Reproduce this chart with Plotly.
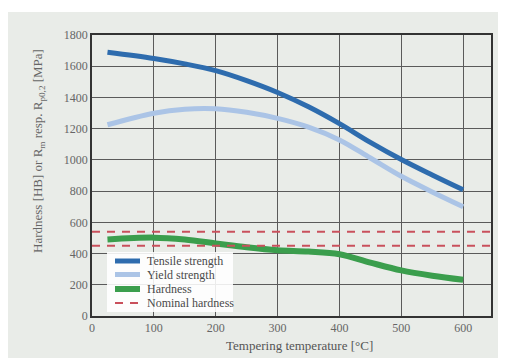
import plotly.graph_objects as go

# ---- data ----
temperature = [25, 100, 150, 200, 250, 300, 350, 400, 450, 500, 550, 600]
tensile_strength = [1690, 1650, 1615, 1572, 1508, 1432, 1340, 1232, 1112, 1002, 903, 808]
yield_strength = [1225, 1299, 1325, 1328, 1305, 1266, 1210, 1128, 1012, 895, 795, 700]
hardness_x = [25, 100, 150, 200, 250, 300, 350, 400, 450, 500, 550, 600]
hardness = [490, 502, 490, 465, 440, 421, 413, 396, 342, 292, 258, 232]
nominal_x = [0, 645]
nominal_upper = 540
nominal_lower = 450
x_ticks = [0, 100, 200, 300, 400, 500, 600]
y_ticks = [0, 200, 400, 600, 800, 1000, 1200, 1400, 1600, 1800]
legend_names = ["Tensile strength", "Yield strength", "Hardness", "Nominal hardness"]

SERIF = "Liberation Serif"
BG = "#e9ece8"
C_TS, C_YS, C_HB, C_NOM = "#2e6cae", "#abc4e6", "#3b9e4d", "#c9505c"
styles = [dict(color=C_TS, width=5), dict(color=C_YS, width=5),
          dict(color=C_HB, width=6), dict(color=C_NOM, width=2, dash="8px,7px")]

fig = go.Figure()
fig.add_trace(go.Scatter(x=temperature, y=tensile_strength, mode="lines",
                         name=legend_names[0], line=dict(**styles[0], shape="spline")))
fig.add_trace(go.Scatter(x=temperature, y=yield_strength, mode="lines",
                         name=legend_names[1], line=dict(**styles[1], shape="spline")))
fig.add_trace(go.Scatter(x=hardness_x, y=hardness, mode="lines",
                         name=legend_names[2], line=dict(**styles[2], shape="spline")))
fig.add_trace(go.Scatter(
    x=nominal_x + [None] + nominal_x,
    y=[nominal_upper, nominal_upper, None, nominal_lower, nominal_lower],
    mode="lines", name=legend_names[3], connectgaps=False, line=styles[3]))

# page body has an 8px margin: figure is placed at (8, 8)
W, H = 498, 350
L, R, T, B = 84, 15, 27, 42
PW, PH = W - L - R, H - T - B


def px(fx):
    return (fx - L) / PW


def py(fy):
    return (H - B - fy) / PH


shapes = [
    dict(type="rect", xref="paper", yref="paper",
         x0=px(0), x1=px(W), y0=py(4), y1=py(0),
         fillcolor="white", line=dict(width=0)),
    # legend box
    dict(type="rect", xref="paper", yref="paper", layer="above",
         x0=px(99), x1=px(225), y0=py(304), y1=py(244),
         fillcolor="rgba(255,255,255,0.88)", line=dict(width=0)),
]
annotations = [
    dict(text="Hardness [HB] or R<sub>m</sub> resp. R<sub>p0,2</sub> [MPa]",
         xref="paper", yref="paper", x=px(30), y=py(143),
         textangle=-90, showarrow=False, xanchor="center", yanchor="middle",
         font=dict(family=SERIF, size=13, color="#666666")),
    dict(text="Tempering temperature [°C]",
         xref="paper", yref="paper", x=px(291), y=py(337),
         showarrow=False, xanchor="center", yanchor="middle",
         font=dict(family=SERIF, size=13, color="#555555")),
]
row_y = [253, 266.5, 281, 295]
for name, st, ry in zip(legend_names, styles, row_y):
    shapes.append(dict(type="line", xref="paper", yref="paper", layer="above",
                       x0=px(107), x1=px(132), y0=py(ry), y1=py(ry),
                       line=dict(color=st["color"], width=st["width"],
                                 dash=st.get("dash", "solid"))))
    annotations.append(dict(text=name, xref="paper", yref="paper",
                            x=px(137), y=py(ry), xanchor="left", yanchor="middle",
                            showarrow=False,
                            font=dict(family=SERIF, size=12, color="#4a4a4a")))

fig.update_layout(
    width=W, height=H,
    margin=dict(l=L, r=R, t=T, b=B),
    paper_bgcolor=BG,
    plot_bgcolor=BG,
    font=dict(family=SERIF, size=12, color="#666666"),
    showlegend=False,
    shapes=shapes,
    annotations=annotations,
)

fig.update_xaxes(range=[0, 645], tickvals=x_ticks, showgrid=True,
                 gridcolor="#5a5a5a", gridwidth=1, zeroline=False,
                 showline=True, linecolor="#333333", linewidth=1.5, mirror=True,
                 ticks="", tickfont=dict(family=SERIF, size=12, color="#666666"))
fig.update_yaxes(range=[0, 1800], tickvals=y_ticks, showgrid=True,
                 gridcolor="#5a5a5a", gridwidth=1, zeroline=False,
                 showline=True, linecolor="#333333", linewidth=1.5, mirror=True,
                 ticks="", tickfont=dict(family=SERIF, size=12, color="#666666"))

fig.write_html("out.html")
